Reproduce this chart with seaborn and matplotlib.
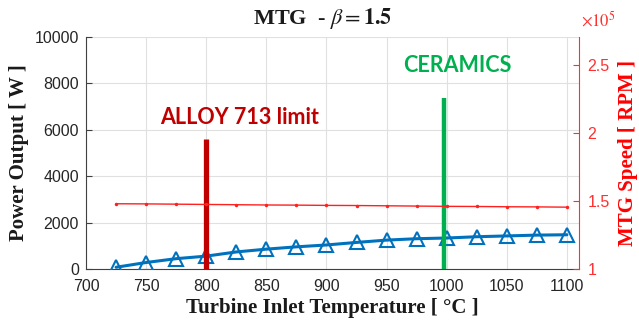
import numpy as np
import pandas as pd
import matplotlib
matplotlib.use("Agg")
import matplotlib.pyplot as plt
import seaborn as sns

# Data
tit = [725, 750, 775, 800, 825, 850, 875, 900, 925, 950, 975, 1000, 1025, 1050, 1075, 1100]
power = [80, 285, 450, 560, 740, 860, 960, 1040, 1150, 1250, 1310, 1340, 1395, 1430, 1465, 1480]
# MTG speed in units of 1e5 RPM
speed = [1.480, 1.479, 1.477, 1.475, 1.473, 1.471, 1.470, 1.468, 1.467, 1.465, 1.463, 1.461, 1.460, 1.458, 1.457, 1.455]

alloy_x, alloy_top = 800, 5600
ceramics_x, ceramics_top = 998, 7350

df = pd.DataFrame({"TIT": tit, "Power": power, "Speed": speed})

sns.set_style("whitegrid")
plt.rcParams["font.family"] = ["Liberation Sans", "DejaVu Sans"]
plt.rcParams["mathtext.fontset"] = "stix"

fig = plt.figure(figsize=(6.39, 3.27), dpi=100)
ax = fig.add_axes([0.1346, 0.177, 0.906 - 0.1346, 0.887 - 0.177])
ax2 = ax.twinx()

# left axis: power
sns.lineplot(data=df, x="TIT", y="Power", ax=ax, color="#0072BD", linewidth=2.2,
             marker="^", markersize=10, markerfacecolor="none",
             markeredgecolor="#0072BD", markeredgewidth=1.5, zorder=3)
ax.vlines(alloy_x, 0, alloy_top, color="#C00000", linewidth=3.8, zorder=4)
ax.vlines(ceramics_x, 0, ceramics_top, color="#00B050", linewidth=3.2, zorder=4)

# right axis: speed
sns.lineplot(data=df, x="TIT", y="Speed", ax=ax2, color="#FF2020", linewidth=1,
             marker="o", markersize=2.5, markeredgewidth=0, zorder=2)

ax.set_xlim(700, 1110)
ax.set_ylim(0, 10000)
ax.set_xticks(np.arange(700, 1101, 50))
ax.set_yticks(np.arange(0, 10001, 2000))
ax2.set_ylim(1, 2.705)
ax2.set_yticks([1, 1.5, 2, 2.5])
ax2.set_yticklabels(["1", "1.5", "2", "2.5"])
ax2.grid(False)

for a in (ax, ax2):
    a.tick_params(direction="in", length=4, labelsize=11.5)
ax.tick_params(colors="#404040", labelcolor="#262626")
ax.tick_params(axis="x", pad=7)
ax.tick_params(axis="y", pad=5)
ax2.tick_params(colors="#FF3030", labelcolor="#FF3030", pad=6)
ax.grid(True, color="#E0E0E0", linewidth=0.8)

ax.spines["top"].set_visible(False)
ax2.spines["top"].set_visible(False)
ax.spines["left"].set_color("#404040")
ax.spines["bottom"].set_color("#404040")
ax.spines["right"].set_visible(False)
ax2.spines["left"].set_visible(False)
ax2.spines["bottom"].set_visible(False)
ax2.spines["right"].set_color("#FF3030")

ax2.text(1.005, 1.03, r"$\times10^5$", transform=ax2.transAxes, color="#FF3030",
         fontsize=12, ha="left", va="bottom", family=["DejaVu Sans"])

serif = ["Liberation Serif", "DejaVu Serif"]
ax.set_xlabel("Turbine Inlet Temperature [ °C ]", fontsize=15, fontweight="bold",
              family=serif, color="#1a1a1a", labelpad=3)
ax.set_ylabel("Power Output [ W ]", fontsize=15, fontweight="bold", family=serif,
              color="#1a1a1a", labelpad=4)
ax2.set_ylabel("MTG Speed [ RPM ]", fontsize=15, fontweight="bold", family=serif,
               color="#FF0000", labelpad=6)
ax.set_title(r"MTG  - $\beta = \mathbf{1.5}$", fontsize=16, fontweight="bold",
             family=serif, color="#1a1a1a", pad=9, x=0.48)

ax.text(828, 6550, "ALLOY 713 limit", color="#C00000", fontsize=15.5, fontweight="bold",
        family=["Lato", "DejaVu Sans"], ha="center", va="center", zorder=5)
ax.text(1009, 8790, "CERAMICS", color="#00B050", fontsize=15.5, fontweight="bold",
        family=["Lato", "DejaVu Sans"], ha="center", va="center", zorder=5)

fig.savefig("out.png", dpi=100)
